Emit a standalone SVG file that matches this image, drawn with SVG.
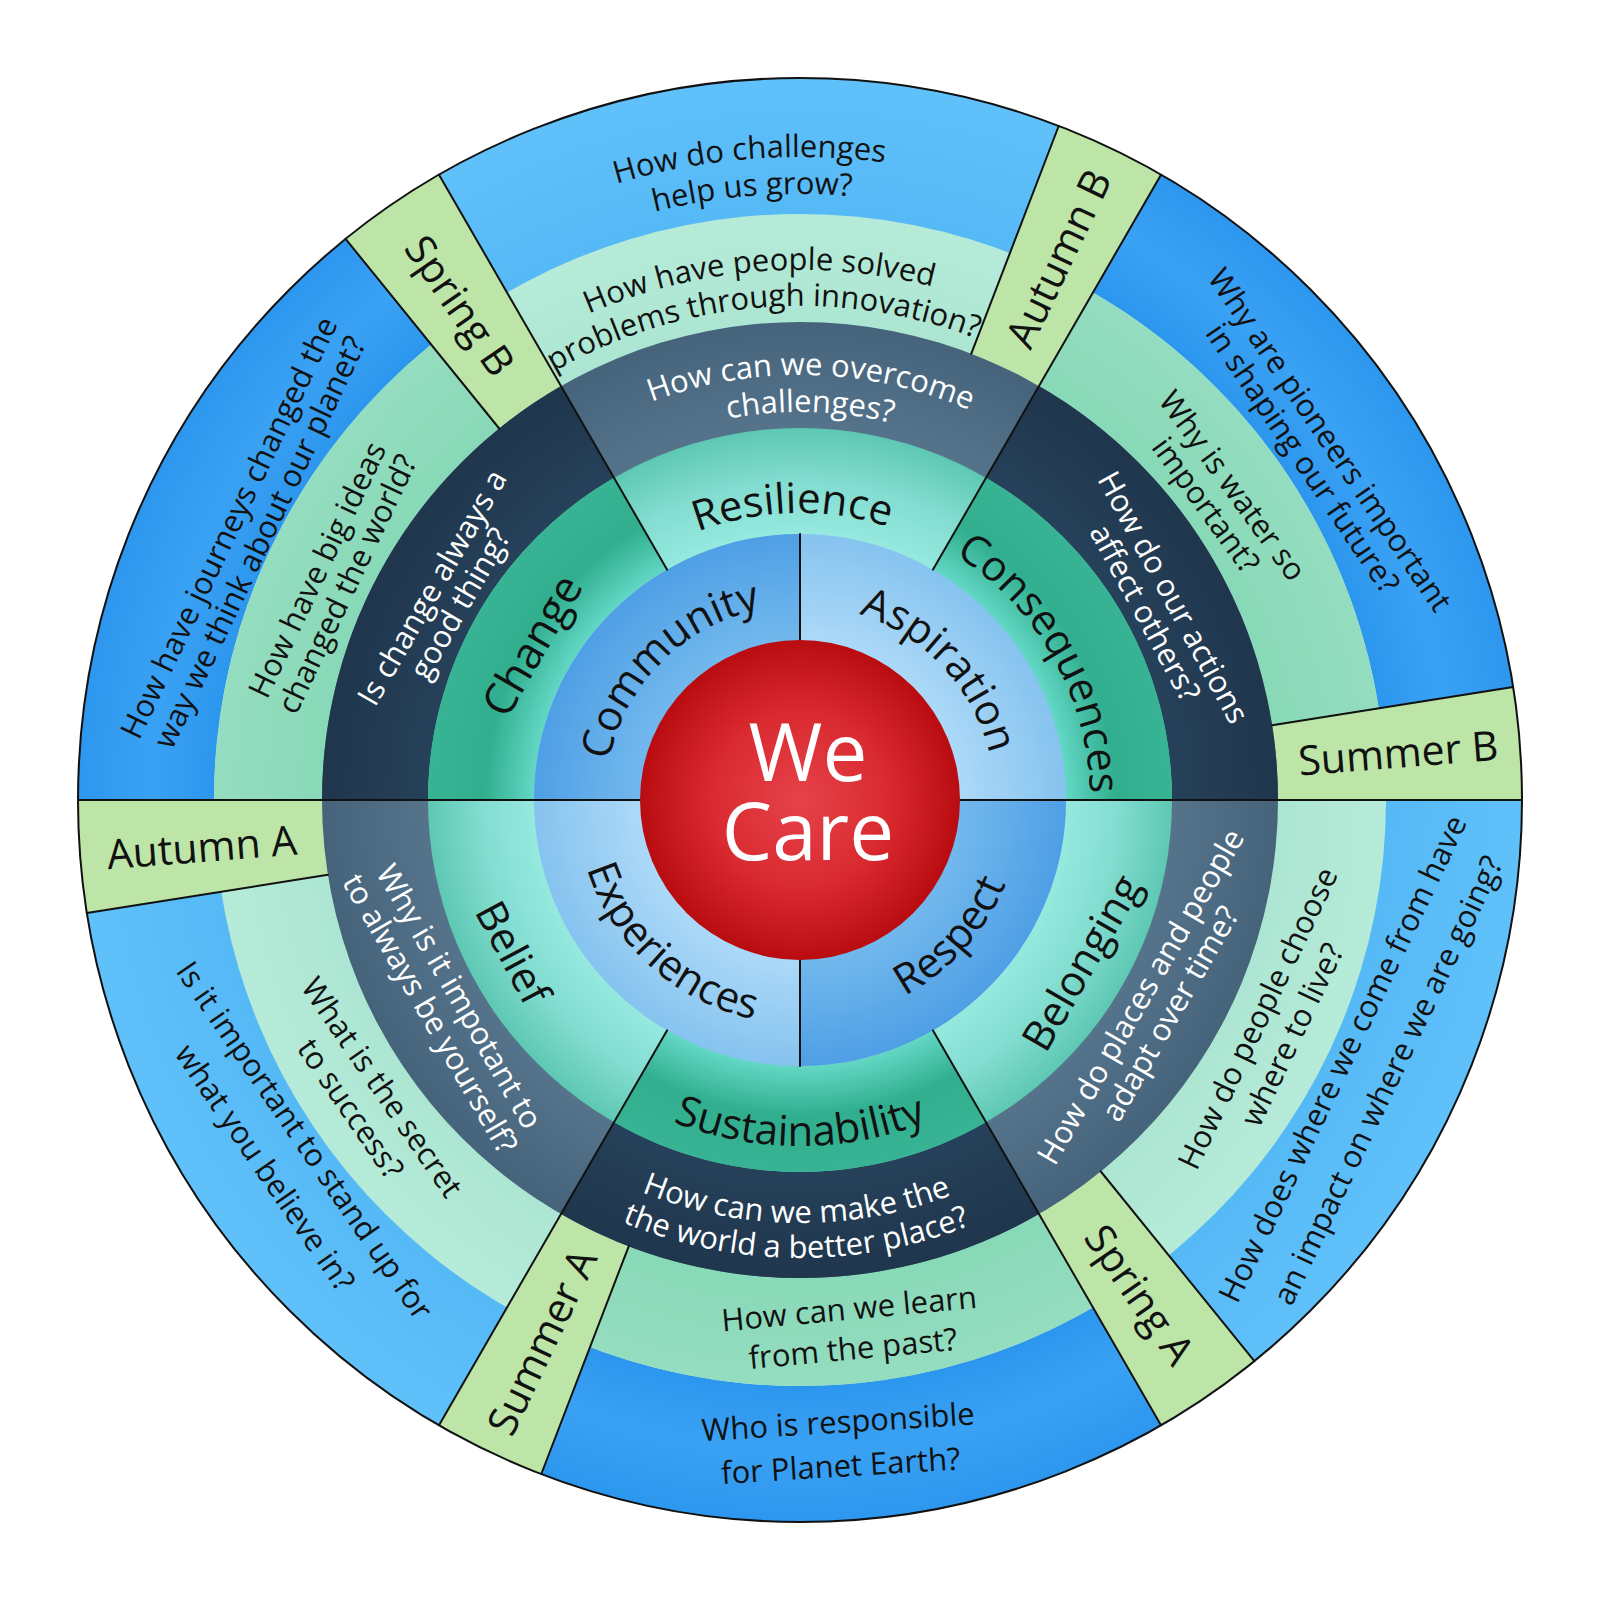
<svg xmlns="http://www.w3.org/2000/svg" width="1600" height="1600" viewBox="0 0 1600 1600">
<style>
text{font-family:"Open Sans","Noto Sans","DejaVu Sans",sans-serif;fill:#111}
.q{font-size:31px}
.w{fill:#fff}
.cat{font-size:42px}
.tab{font-size:41px}
.big{font-size:80px;fill:#fff}
.line{stroke:#111;stroke-width:2;fill:none;stroke-linecap:round}
.tabshape{fill:#bde5a7}
</style>
<defs>
<radialGradient id="gBlueL" gradientUnits="userSpaceOnUse" cx="800" cy="800" r="722"><stop offset="0.81" stop-color="#55b9f6"/><stop offset="1" stop-color="#60c1fa"/></radialGradient>
<radialGradient id="gBlueD" gradientUnits="userSpaceOnUse" cx="800" cy="800" r="722"><stop offset="0.81" stop-color="#2c96ee"/><stop offset="0.9" stop-color="#3aa2f4"/><stop offset="1" stop-color="#2d96ee"/></radialGradient>
<radialGradient id="gGreenL" gradientUnits="userSpaceOnUse" cx="800" cy="800" r="586"><stop offset="0.816" stop-color="#ace6d2"/><stop offset="1" stop-color="#b6ebd9"/></radialGradient>
<radialGradient id="gGreenD" gradientUnits="userSpaceOnUse" cx="800" cy="800" r="586"><stop offset="0.816" stop-color="#88d9b8"/><stop offset="1" stop-color="#95ddc0"/></radialGradient>
<radialGradient id="gSlate" gradientUnits="userSpaceOnUse" cx="800" cy="800" r="478"><stop offset="0.778" stop-color="#55748c"/><stop offset="1" stop-color="#45637b"/></radialGradient>
<radialGradient id="gNavy" gradientUnits="userSpaceOnUse" cx="800" cy="800" r="478"><stop offset="0.778" stop-color="#26415a"/><stop offset="1" stop-color="#1f364d"/></radialGradient>
<radialGradient id="gTealL" gradientUnits="userSpaceOnUse" cx="800" cy="800" r="372"><stop offset="0.715" stop-color="#95e9df"/><stop offset="0.85" stop-color="#84ddd1"/><stop offset="1" stop-color="#5ec8b3"/></radialGradient>
<radialGradient id="gTealD" gradientUnits="userSpaceOnUse" cx="800" cy="800" r="372"><stop offset="0.715" stop-color="#63d7c5"/><stop offset="0.85" stop-color="#30ae8e"/><stop offset="1" stop-color="#38b494"/></radialGradient>
<radialGradient id="gInL" gradientUnits="userSpaceOnUse" cx="800" cy="800" r="266"><stop offset="0.6" stop-color="#acd9f8"/><stop offset="1" stop-color="#86c3ef"/></radialGradient>
<radialGradient id="gInD" gradientUnits="userSpaceOnUse" cx="800" cy="800" r="266"><stop offset="0.6" stop-color="#72b8ed"/><stop offset="1" stop-color="#4f9fe5"/></radialGradient>
<radialGradient id="gRed" gradientUnits="userSpaceOnUse" cx="800" cy="800" r="160"><stop offset="0" stop-color="#e6424a"/><stop offset="0.55" stop-color="#d92a30"/><stop offset="1" stop-color="#b90c11"/></radialGradient>
<path id="tb1" d="M349.3,341.4 A643,643 0 0 1 1173.4,276.5"/>
<path id="tb2" d="M375.2,367.8 A606,606 0 0 1 1151.9,306.6"/>
<path id="tg1" d="M428.5,422.0 A530,530 0 0 1 1107.8,368.5"/>
<path id="tg2" d="M453.7,447.7 A494,494 0 0 1 1086.9,397.8"/>
<path id="td1" d="M481.7,518.4 A425,425 0 0 1 1132.6,535.4"/>
<path id="td2" d="M509.4,542.9 A388,388 0 0 1 1103.7,558.5"/>
<path id="pRes" d="M575.4,621.3 A287,287 0 0 1 1015.0,609.8"/>
<path id="pCons" d="M802.5,510.0 A290,290 0 0 1 1049.9,947.2"/>
<path id="pSus" d="M516.6,998.5 A346,346 0 0 0 1083.4,998.5"/>
<path id="bd1" d="M473.6,1069.1 A423,423 0 0 0 1121.7,1074.7"/>
<path id="bd2" d="M446.6,1091.3 A458,458 0 0 0 1148.3,1097.4"/>
<path id="pCom" d="M611.6,850.5 A195,195 0 0 1 850.5,611.6"/>
<path id="pAsp" d="M756.1,610.0 A195,195 0 0 1 986.5,857.0"/>
<path id="pExp" d="M580.9,753.4 A224,224 0 0 0 869.2,1013.0"/>
<path id="pRsp" d="M753.8,1017.2 A222,222 0 0 0 1011.1,731.4"/>
</defs>

<g id="outer-ring">
<circle cx="800" cy="800" r="722" fill="url(#gBlueL)"/>
<path d="M800,800 L1513.1,687.1 A722,722 0 0 0 1161,174.7 Z" fill="url(#gBlueD)"/>
<path d="M800,800 L345.6,238.9 A722,722 0 0 0 78,800 Z" fill="url(#gBlueD)"/>
<path d="M800,800 L541.3,1474.0 A722,722 0 0 0 1161,1425.3 Z" fill="url(#gBlueD)"/>
</g>
<g id="green-ring">
<circle cx="800" cy="800" r="586" fill="url(#gGreenL)"/>
<path d="M800,800 L1378.8,708.3 A586,586 0 0 0 1093,292.5 Z" fill="url(#gGreenD)"/>
<path d="M800,800 L431.2,344.6 A586,586 0 0 0 214,800 Z" fill="url(#gGreenD)"/>
<path d="M800,800 L590.0,1347.1 A586,586 0 0 0 1093,1307.5 Z" fill="url(#gGreenD)"/>
</g>
<g id="tabs">
<path id="tab-summer-b" class="tabshape" d="M800,800 L1522,800 A722,722 0 0 0 1513.1,687.1 Z"/>
<path id="tab-autumn-b" class="tabshape" d="M800,800 L1161,174.7 A722,722 0 0 0 1058.7,126.0 Z"/>
<path id="tab-spring-b" class="tabshape" d="M800,800 L439,174.7 A722,722 0 0 0 345.6,238.9 Z"/>
<path id="tab-autumn-a" class="tabshape" d="M800,800 L78,800 A722,722 0 0 0 86.9,912.9 Z"/>
<path id="tab-summer-a" class="tabshape" d="M800,800 L439,1425.3 A722,722 0 0 0 541.3,1474.0 Z"/>
<path id="tab-spring-a" class="tabshape" d="M800,800 L1161,1425.3 A722,722 0 0 0 1254.4,1361.1 Z"/>
</g>
<g id="dark-ring">
<circle cx="800" cy="800" r="478" fill="url(#gSlate)"/>
<path d="M800,800 L1278,800 A478,478 0 0 0 1039,386.0 Z" fill="url(#gNavy)"/>
<path d="M800,800 L561,386.0 A478,478 0 0 0 322,800 Z" fill="url(#gNavy)"/>
<path d="M800,800 L561,1214.0 A478,478 0 0 0 1039,1214.0 Z" fill="url(#gNavy)"/>
</g>
<g id="teal-ring">
<circle cx="800" cy="800" r="372" fill="url(#gTealL)"/>
<path d="M800,800 L1172,800 A372,372 0 0 0 986,477.8 Z" fill="url(#gTealD)"/>
<path d="M800,800 L614,477.8 A372,372 0 0 0 428,800 Z" fill="url(#gTealD)"/>
<path d="M800,800 L614,1122.2 A372,372 0 0 0 986,1122.2 Z" fill="url(#gTealD)"/>
</g>
<g id="inner-ring">
<circle cx="800" cy="800" r="266" fill="url(#gInL)"/>
<path d="M800,800 L800,534 A266,266 0 0 0 534,800 Z" fill="url(#gInD)"/>
<path d="M800,800 L800,1066 A266,266 0 0 0 1066,800 Z" fill="url(#gInD)"/>
</g>
<g id="dividers">
<path class="line" d="M78,800 H640 M960,800 H1522 M800,534 V640 M800,960 V1066"/>
<path class="line" d="M933,569.6 L1161,174.7 M667,569.6 L439,174.7 M667,1030.4 L439,1425.3 M933,1030.4 L1161,1425.3"/>
<path class="line" d="M1272.1,725.2 L1513.1,687.1 M971.3,353.7 L1058.7,126.0 M499.2,428.5 L345.6,238.9 M327.9,874.8 L86.9,912.9 M628.7,1246.3 L541.3,1474.0 M1100.8,1171.5 L1254.4,1361.1"/>
<circle class="line" cx="800" cy="800" r="722"/>
</g>
<g id="we-care">
<circle cx="800" cy="800" r="160" fill="url(#gRed)"/>
<text class="big" x="808" y="781" text-anchor="middle">We</text>
<text class="big" x="808" y="860" text-anchor="middle">Care</text>
</g>

<g id="inner-labels">
<text class="cat" text-anchor="middle"><textPath href="#pCom" startOffset="50%">Community</textPath></text>
<text class="cat" text-anchor="middle"><textPath href="#pAsp" startOffset="50%">Aspiration</textPath></text>
<text class="cat" text-anchor="middle"><textPath href="#pExp" startOffset="50%">Experiences</textPath></text>
<text class="cat" text-anchor="middle"><textPath href="#pRsp" startOffset="50%">Respect</textPath></text>
</g>
<g id="teal-labels">
<text class="cat" text-anchor="middle"><textPath href="#pRes" startOffset="50%">Resilience</textPath></text>
<text class="cat" text-anchor="middle"><textPath href="#pCons" startOffset="50%">Consequences</textPath></text>
<text class="cat" text-anchor="middle"><textPath href="#pSus" startOffset="50%">Sustainability</textPath></text>
<text class="cat" style="font-size:44px" text-anchor="middle" transform="translate(545.4,653) rotate(-60)">Change</text>
<text class="cat" text-anchor="middle" transform="translate(499.8,959.6) rotate(62)">Belief</text>
<text class="cat" text-anchor="middle" transform="translate(1094.4,970) rotate(-60)">Belonging</text>
</g>
<g id="dark-labels">
<text class="q w" text-anchor="middle"><textPath href="#td1" startOffset="50%">How can we overcome</textPath></text>
<text class="q w" text-anchor="middle"><textPath href="#td2" startOffset="50%">challenges?</textPath></text>
<text class="q w" text-anchor="middle" transform="translate(1163.8,602.5) rotate(61.5)">How do our actions</text>
<text class="q w" text-anchor="middle" transform="translate(1135.7,617.7) rotate(61.5)">affect others?</text>
<text class="q w" text-anchor="middle" transform="translate(1149.9,1002) rotate(-60)">How do places and people</text>
<text class="q w" text-anchor="middle" transform="translate(1179.3,1019) rotate(-60)">adapt over time?</text>
<text class="q w" text-anchor="middle"><textPath href="#bd1" startOffset="50%">How can we make the</textPath></text>
<text class="q w" text-anchor="middle"><textPath href="#bd2" startOffset="50%">the world a better place?</textPath></text>
<text class="q w" text-anchor="middle" transform="translate(450.1,1002) rotate(60)">Why is it impotant to</text>
<text class="q w" text-anchor="middle" transform="translate(420.7,1019) rotate(60)">to always be yourself?</text>
<text class="q w" text-anchor="middle" transform="translate(441.5,593) rotate(-60)">Is change always a</text>
<text class="q w" text-anchor="middle" transform="translate(469.2,609) rotate(-60)">good thing?</text>
</g>
<g id="green-labels">
<text class="q" text-anchor="middle"><textPath href="#tg1" startOffset="50%">How have people solved</textPath></text>
<text class="q" text-anchor="middle"><textPath href="#tg2" startOffset="50%">problems through innovation?</textPath></text>
<text class="q" text-anchor="middle" transform="translate(1223.9,492.0) rotate(54)">Why is water so</text>
<text class="q" text-anchor="middle" transform="translate(1197.2,511.4) rotate(54)">important?</text>
<text class="q" text-anchor="middle" transform="translate(1267.5,1023.0) rotate(-64.5)">How do people choose</text>
<text class="q" text-anchor="middle" transform="translate(1301.8,1039.4) rotate(-64.5)">where to live?</text>
<text class="q" text-anchor="middle" transform="translate(850.0,1319.6) rotate(-5.3)">How can we learn</text>
<text class="q" text-anchor="middle" transform="translate(853.9,1359.4) rotate(-5.3)">from the past?</text>
<text class="q" text-anchor="middle" transform="translate(373.1,1093.4) rotate(55.5)">What is the secret</text>
<text class="q" text-anchor="middle" transform="translate(341.8,1114.9) rotate(55.5)">to success?</text>
<text class="q" text-anchor="middle" transform="translate(327.0,574.4) rotate(-64.5)">How have big ideas</text>
<text class="q" text-anchor="middle" transform="translate(356.8,588.6) rotate(-64.5)">changed the world?</text>
</g>
<g id="blue-labels">
<text class="q" text-anchor="middle"><textPath href="#tb1" startOffset="50%">How do challenges</textPath></text>
<text class="q" text-anchor="middle"><textPath href="#tb2" startOffset="50%">help us grow?</textPath></text>
<text class="q" text-anchor="middle" transform="translate(1321.1,445.9) rotate(55.8)">Why are pioneers important</text>
<text class="q" text-anchor="middle" transform="translate(1293.8,464.4) rotate(55.8)">in shaping our future?</text>
<text class="q" text-anchor="middle" transform="translate(1352.4,1063.5) rotate(-64.5)">How does where we come from have</text>
<text class="q" text-anchor="middle" transform="translate(1397.5,1085.0) rotate(-64.5)">an impact on where we are going?</text>
<text class="q" text-anchor="middle" transform="translate(838.7,1432.8) rotate(-3.5)">Who is responsible</text>
<text class="q" text-anchor="middle" transform="translate(841.4,1476.7) rotate(-3.5)">for Planet Earth?</text>
<text class="q" text-anchor="middle" transform="translate(295.6,1146.6) rotate(55.5)">Is it important to stand up for</text>
<text class="q" text-anchor="middle" transform="translate(256.1,1173.8) rotate(55.5)">what you believe in?</text>
<text class="q" text-anchor="middle" transform="translate(238.6,532.2) rotate(-64.5)">How have journeys changed the</text>
<text class="q" text-anchor="middle" transform="translate(269.3,546.9) rotate(-64.5)">way we think about our planet?</text>
</g>
<g id="tab-labels">
<text class="tab" text-anchor="middle" dy="0.36em" transform="translate(1398.2,752.9) rotate(-4.5)">Summer B</text>
<text class="tab" text-anchor="middle" dy="0.36em" transform="translate(1058.3,258.4) rotate(-64.5)">Autumn B</text>
<text class="tab" text-anchor="middle" dy="0.36em" transform="translate(460.2,305.5) rotate(55.5)">Spring B</text>
<text class="tab" text-anchor="middle" dy="0.36em" transform="translate(201.8,847.1) rotate(-4.5)">Autumn A</text>
<text class="tab" text-anchor="middle" dy="0.36em" transform="translate(541.7,1341.6) rotate(-64.5)">Summer A</text>
<text class="tab" text-anchor="middle" dy="0.36em" transform="translate(1139.8,1294.5) rotate(55.5)">Spring A</text>
</g>
</svg>
